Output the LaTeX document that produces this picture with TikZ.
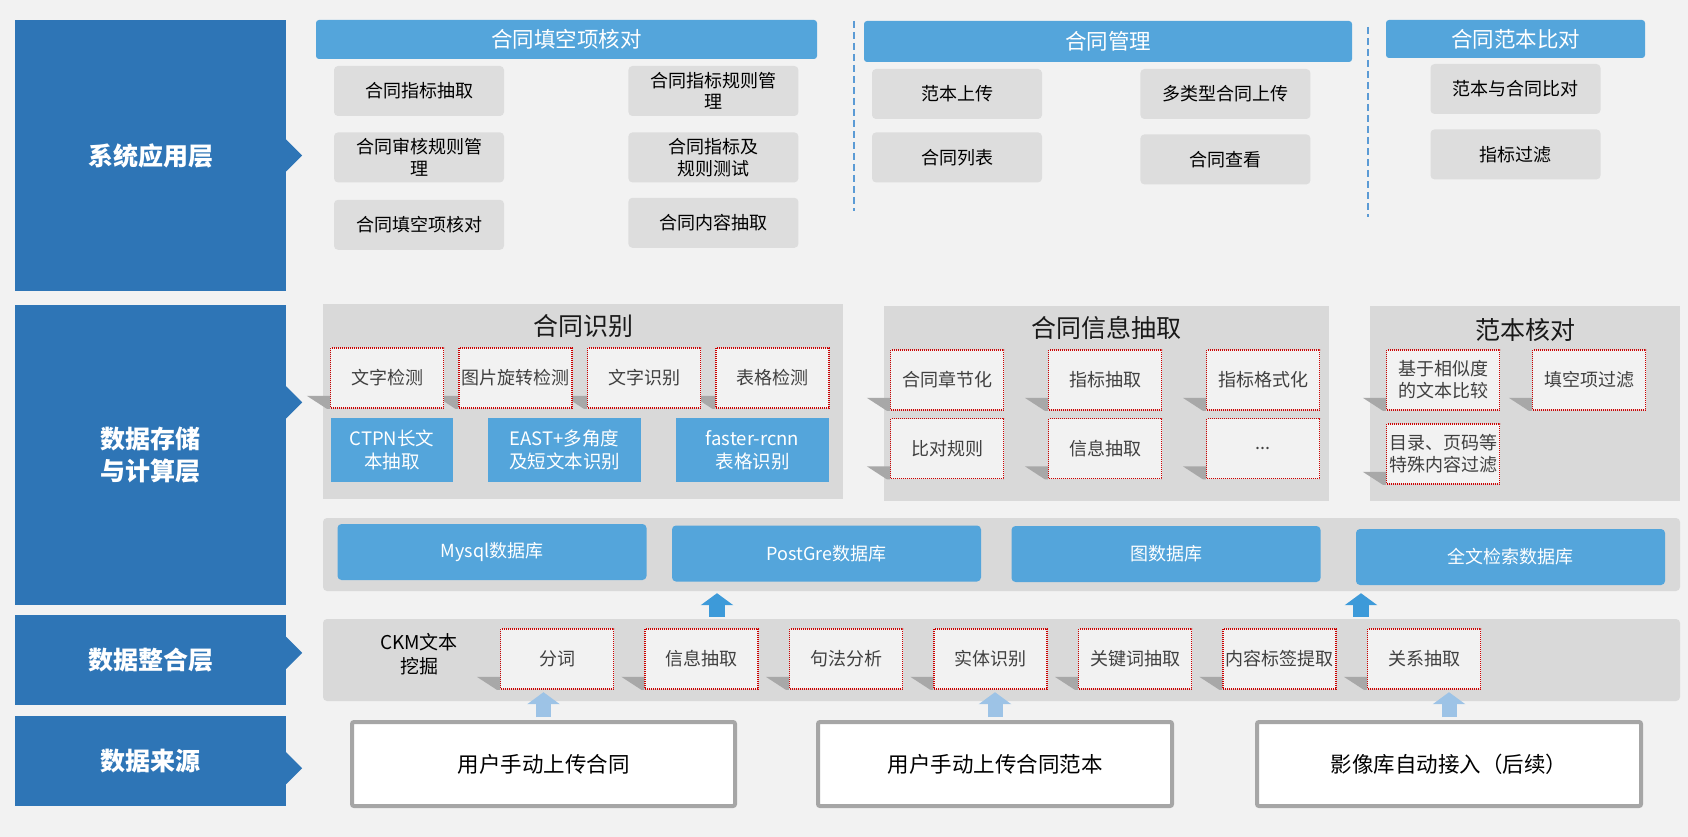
\documentclass[tikz,border=0pt]{standalone}
\usepackage{fontspec}
\setmainfont{Noto Sans CJK SC}
\usetikzlibrary{positioning,arrows.meta}

\definecolor{bg}{RGB}{242,242,242}
\definecolor{layerblue}{RGB}{46,117,182}
\definecolor{headblue}{RGB}{84,165,219}
\definecolor{funcgray}{RGB}{221,221,221}
\definecolor{panelgray}{RGB}{217,217,217}
\definecolor{redline}{RGB}{204,0,0}
\definecolor{srcgray}{RGB}{166,166,166}
\definecolor{shadowgray}{RGB}{168,168,168}
\definecolor{textgray}{RGB}{64,64,64}
\definecolor{sepblue}{RGB}{91,155,213}
\definecolor{arrowblue}{RGB}{61,154,217}
\definecolor{lightarrow}{RGB}{157,195,230}

\pgfdeclarelayer{back}
\pgfdeclarelayer{mid}
\pgfsetlayers{back,mid,main}

\begin{document}
\begin{tikzpicture}[x=1pt,y=-1pt,
    layer/.style={fill=layerblue,text=white,minimum width=271pt,inner sep=0pt,align=center,font=\bfseries\fontsize{25}{32}\selectfont},
    head/.style={fill=headblue,rounded corners=3pt,text=white,inner sep=0pt,font=\fontsize{21.5}{26}\selectfont},
    func/.style={fill=funcgray,rounded corners=4pt,minimum width=170pt,minimum height=50pt,inner sep=1pt,align=center,font=\fontsize{18}{21.5}\selectfont},
    panel/.style={fill=panelgray,inner sep=0pt},
    ptitle/.style={font=\fontsize{25}{30}\selectfont,text=black!90},
    redbox/.style={fill=bg,draw=redline,line width=1.5pt,dash pattern=on 1pt off 1pt,minimum width=113pt,minimum height=60pt,inner sep=1pt,align=center,text=textgray,font=\fontsize{18}{22}\selectfont},
    bluebox/.style={fill=headblue,text=white,minimum height=64pt,inner sep=1pt,align=center,font=\fontsize{18.5}{23}\selectfont},
    dbbox/.style={fill=headblue,rounded corners=4pt,text=white,minimum width=309pt,minimum height=56pt,font=\fontsize{18}{22}\selectfont},
    ckmlabel/.style={align=center,font=\fontsize{19}{24}\selectfont},
    srcbox/.style={draw=srcgray,line width=4pt,fill=white,rounded corners=2pt,minimum height=84pt,font=\fontsize{21.5}{26}\selectfont},
    sepline/.style={draw=sepblue,line width=1.5pt,dash pattern=on 7pt off 4pt},
    uparrow/.style={draw=arrowblue,line width=16pt,-{Triangle[width=32pt,length=12pt]},shorten <=2pt,shorten >=2pt},
    srcarrow/.style={draw=lightarrow,line width=15pt,-{Triangle[width=32pt,length=12pt]},shorten <=3pt,shorten >=-9pt}]

% background and panels
\begin{pgfonlayer}{back}
\fill[bg] (0,0) rectangle (1688,837);
\node[panel, minimum width=520pt, minimum height=195pt] (pRec) at (583,401.5) {};
\node[panel, minimum width=445pt, minimum height=195pt] (pInfo) at (1106.5,403.5) {};
\node[panel, minimum width=310pt, minimum height=195pt] (pTpl) at (1525,403.5) {};
\node[panel, rounded corners=4pt, minimum width=1357pt, minimum height=73pt] (pDb) at (1001.5,554.5) {};
\node[panel, rounded corners=4pt, minimum width=1357pt, minimum height=82pt] (pCkm) at (1001.5,660) {};
\end{pgfonlayer}

% layers
\node[layer, minimum height=271pt] (lSys) at (150.5,155.5) {系统应用层};
\node[layer, minimum height=300pt, below=14pt of lSys] (lData) {数据存储\\与计算层};
\node[layer, minimum height=90pt, below=9pt of lData] (lInt) {数据整合层};
\node[layer, minimum height=90pt, below=11pt of lInt] (lSrc) {数据来源};
\fill[layerblue] ([yshift=16pt]lSys.east) -- ++(16,16) -- ++(-16,16) -- cycle;
\fill[layerblue] ([yshift=69pt]lData.east) -- ++(16,16) -- ++(-16,16) -- cycle;
\fill[layerblue] ([yshift=23pt]lInt.east) -- ++(16,16) -- ++(-16,16) -- cycle;
\fill[layerblue] ([yshift=9pt]lSrc.east) -- ++(16,16) -- ++(-16,16) -- cycle;

% application layer
\node[head, minimum width=501pt, minimum height=39pt] (hFill) at (566.5,39.5) {合同填空项核对};
\node[head, minimum width=488pt, minimum height=41pt] (hMgmt) at (1108,41.5) {合同管理};
\node[head, minimum width=259pt, minimum height=38pt] (hCmp) at (1515.5,39) {合同范本比对};

\node[func] (fA1) at (419,91) {合同指标抽取};
\node[func, below=16pt of fA1] (fA2) {合同审核规则管\\理};
\node[func, below=17pt of fA2] (fA3) {合同填空项核对};
\node[func, right=124pt of fA1] (fB1) {合同指标规则管\\理};
\node[func, below=16pt of fB1] (fB2) {合同指标及\\规则测试};
\node[func, below=15pt of fB2] (fB3) {合同内容抽取};

\node[func] (fC1) at (957,94) {范本上传};
\node[func, below=13pt of fC1] (fC2) {合同列表};
\node[func, right=98pt of fC1] (fD1) {多类型合同上传};
\node[func, below=15pt of fD1] (fD2) {合同查看};

\node[func] (fE1) at (1515.5,89) {范本与合同比对};
\node[func, below=15pt of fE1] (fE2) {指标过滤};

\draw[sepline] (854,21) -- (854,211);
\draw[sepline] (1368,27) -- (1368,217);

% storage and computing layer
\node[ptitle] (tRec) at ([yshift=-22pt]pRec.north) {合同识别};
\node[redbox] (rA) at (387,378) {文字检测};
\node[redbox, right=14pt of rA] (rB) {图片旋转检测};
\node[redbox, right=14pt of rB] (rC) {文字识别};
\node[redbox, right=14pt of rC] (rD) {表格检测};
\node[bluebox, minimum width=122pt] (bA) at (392,450) {CTPN长文\\本抽取};
\node[bluebox, minimum width=153pt] (bB) at (564.5,450) {EAST+多角度\\及短文本识别};
\node[bluebox, minimum width=153pt] (bC) at (752.5,450) {faster-rcnn\\表格识别};

\node[ptitle] (tInfo) at ([yshift=-22pt]pInfo.north) {合同信息抽取};
\node[redbox] (iA1) at (947,380) {合同章节化};
\node[redbox, right=43.5pt of iA1] (iB1) {指标抽取};
\node[redbox, right=43.5pt of iB1] (iC1) {指标格式化};
\node[redbox, below=7pt of iA1] (iA2) {比对规则};
\node[redbox, below=7pt of iB1] (iB2) {信息抽取};
\node[redbox, below=7pt of iC1] (iC2) {...};

\node[ptitle] (tTpl) at ([yshift=-24pt]pTpl.north) {范本核对};
\node[redbox] (tA) at (1443,380) {基于相似度\\的文本比较};
\node[redbox, right=31.5pt of tA] (tB) {填空项过滤};
\node[redbox, below=12.5pt of tA] (tC) {目录、页码等\\特殊内容过滤};

\node[dbbox] (dMy) at (492,552) {Mysql数据库};
\node[dbbox] (dPg) at (826.5,553.5) {PostGre数据库};
\node[dbbox] (dGr) at (1166,554) {图数据库};
\node[dbbox] (dFt) at (1510.5,557) {全文检索数据库};

% integration layer
\node[ckmlabel] (kLab) at (419,654) {CKM文本\\挖掘};
\node[redbox] (kA) at (557,659) {分词};
\node[redbox, right=30pt of kA] (kB) {信息抽取};
\node[redbox, right=30pt of kB] (kC) {句法分析};
\node[redbox, right=30pt of kC] (kD) {实体识别};
\node[redbox, right=30pt of kD] (kE) {关键词抽取};
\node[redbox, right=30pt of kE] (kF) {内容标签提取};
\node[redbox, right=30pt of kF] (kG) {关系抽取};

% shadows of the dotted boxes
\begin{pgfonlayer}{mid}
\foreach \n in {rA,rB,rC,rD,iA1,iB1,iC1,iA2,iB2,iC2,tA,tB,tC,kA,kB,kC,kD,kE,kF,kG}
  \fill[shadowgray] ([shift={(-23,-13)}]\n.south west) -- ([yshift=13pt]\n.south west) -- (\n.south west) -- ([xshift=-3pt]\n.south west) -- cycle;
\end{pgfonlayer}

% sources
\node[srcbox, minimum width=383pt] (s1) at (543.5,764) {用户手动上传合同};
\node[srcbox, minimum width=354pt] (s2) at (995,764) {用户手动上传合同范本};
\node[srcbox, minimum width=384pt] (s3) at (1449,764) {影像库自动接入（后续）};

% arrows
\coordinate (upL) at (717,605);
\coordinate (upR) at (1361,605);
\draw[uparrow] (upL |- pCkm.north) -- (upL |- pDb.south);
\draw[uparrow] (upR |- pCkm.north) -- (upR |- pDb.south);
\draw[srcarrow] (s1.north) -- (s1.north |- pCkm.south);
\draw[srcarrow] (s2.north) -- (s2.north |- pCkm.south);
\draw[srcarrow] (s3.north) -- (s3.north |- pCkm.south);
\end{tikzpicture}
\end{document}
